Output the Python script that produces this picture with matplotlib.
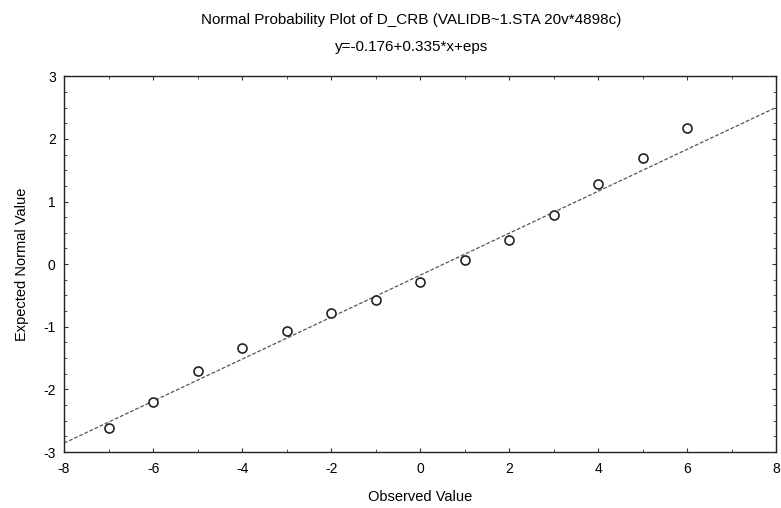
import numpy as np
import matplotlib
matplotlib.use('Agg')
import matplotlib.pyplot as plt
from matplotlib.ticker import MultipleLocator

plt.rcParams['font.family'] = ['Liberation Sans', 'DejaVu Sans']
plt.rcParams['axes.unicode_minus'] = False

observed = [-7, -6, -5, -4, -3, -2, -1, 0, 1, 2, 3, 4, 5, 6]
expected = [-2.62, -2.20, -1.71, -1.34, -1.06, -0.78, -0.575, -0.29,
            0.06, 0.39, 0.79, 1.28, 1.70, 2.175]
intercept, slope = -0.176, 0.335
x_ticks = [-8, -6, -4, -2, 0, 2, 4, 6, 8]
y_ticks = [-3, -2, -1, 0, 1, 2, 3]

fig = plt.figure(figsize=(7.81, 5.08), dpi=100)
ax = fig.add_axes([0.082, 0.110, 0.912, 0.740])

xl = np.array([-8, 8])
ax.plot(xl, intercept + slope * xl, color='#555555', lw=0.9,
        linestyle=(0, (3, 1.5)))
ax.plot(observed, expected, 'o', mfc='white', mec='#222222', ms=6.5, mew=1.2)

ax.set_xlim(-8, 8)
ax.set_ylim(-3, 3)
ax.set_xticks(x_ticks)
ax.set_yticks(y_ticks)
ax.xaxis.set_minor_locator(MultipleLocator(1))
ax.yaxis.set_minor_locator(MultipleLocator(0.25))
ax.tick_params(which='both', direction='in', top=True, right=True,
               labelsize=10, color='#333333')
ax.tick_params(which='major', length=3)
ax.tick_params(which='minor', length=2)
ax.tick_params(axis='x', pad=7)
ax.tick_params(axis='y', pad=6)
for s in ax.spines.values():
    s.set_linewidth(1.0)
    s.set_color('#222222')

ax.set_xlabel('Observed Value', fontsize=10.5, labelpad=10)
ax.set_ylabel('Expected Normal Value', fontsize=10.5, labelpad=10)

fig.text(0.527, 0.960, 'Normal Probability Plot of D_CRB (VALIDB~1.STA 20v*4898c)',
         ha='center', va='center', fontsize=11)
fig.text(0.527, 0.907, 'y=-0.176+0.335*x+eps', ha='center', va='center',
         fontsize=11)

fig.savefig('out.png', dpi=100)
